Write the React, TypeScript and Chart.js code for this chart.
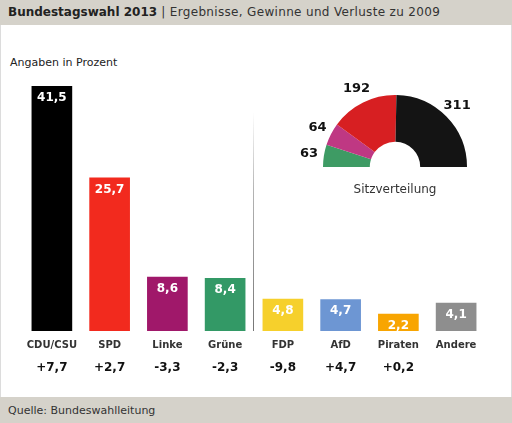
import React, { useEffect, useRef } from "react";
import { Chart, registerables } from "chart.js";

Chart.register(...registerables);

const parties = ["CDU/CSU", "SPD", "Linke", "Grüne", "FDP", "AfD", "Piraten", "Andere"];
const shares = [41.5, 25.7, 8.6, 8.4, 4.8, 4.7, 2.2, 4.1];
const changes = ["+7,7", "+2,7", "-3,3", "-2,3", "-9,8", "+4,7", "+0,2", ""];
const barColors = ["#000000", "#f22a1e", "#a0186a", "#339966", "#f6d02c", "#6d96d3", "#f8a501", "#8e8e8e"];

const seatParties = ["Grüne", "Linke", "SPD", "CDU/CSU"];
const seats = [63, 64, 192, 311];
const seatColors = ["#3e9b64", "#bf3883", "#d71f22", "#141414"];

const Y_MIN = -0.7;
const Y_MAX = 45;
const FONT = "'DejaVu Sans', Verdana, sans-serif";
const fmt = (v: number) => v.toFixed(1).replace(".", ",");

export default function App() {
  const barRef = useRef<HTMLCanvasElement | null>(null);
  const pieRef = useRef<HTMLCanvasElement | null>(null);

  useEffect(() => {
    document.body.style.margin = "0";
    const barLabels = {
      id: "barLabels",
      afterDatasetsDraw(chart: any) {
        const ctx = chart.ctx;
        const meta = chart.getDatasetMeta(0);
        const els = meta.data;
        ctx.save();
        // separator line between Grüne and FDP
        const sx = Math.round((els[3].x + els[4].x) / 2) - 0.5;
        const grad = ctx.createLinearGradient(0, 112, 0, 331);
        grad.addColorStop(0, "rgba(120,120,120,0)");
        grad.addColorStop(0.35, "rgba(120,120,120,0.55)");
        grad.addColorStop(1, "rgba(110,110,110,0.95)");
        ctx.strokeStyle = grad;
        ctx.lineWidth = 1;
        ctx.beginPath();
        ctx.moveTo(sx, 112);
        ctx.lineTo(sx, 331);
        ctx.stroke();

        ctx.textAlign = "center";
        ctx.textBaseline = "middle";
        els.forEach((el: any, i: number) => {
          ctx.fillStyle = "#ffffff";
          ctx.font = `bold 12px ${FONT}`;
          ctx.fillText(fmt(shares[i]), el.x, el.y + 11.5);
          ctx.fillStyle = "#333333";
          ctx.font = `bold 10px ${FONT}`;
          ctx.fillText(parties[i], el.x, 345);
          ctx.fillStyle = "#111111";
          ctx.font = `bold 12px ${FONT}`;
          ctx.fillText(changes[i], el.x, 368);
        });
        ctx.restore();
      },
    };

    const bar = new Chart(barRef.current as HTMLCanvasElement, {
      type: "bar",
      data: {
        labels: parties,
        datasets: [
          {
            data: shares,
            backgroundColor: barColors,
            borderWidth: 0,
            barThickness: 40,
            base: Y_MIN,
          } as any,
        ],
      },
      options: {
        animation: false,
        responsive: false,
        layout: { padding: { left: 23, right: 27, top: 66, bottom: 92 } },
        plugins: { legend: { display: false }, tooltip: { enabled: false } },
        scales: {
          x: { display: false, offset: true },
          y: { display: false, min: Y_MIN, max: Y_MAX },
        },
      },
      plugins: [barLabels],
    });

    const pieLabels = {
      id: "pieLabels",
      afterDatasetsDraw(chart: any) {
        const ctx = chart.ctx;
        const els = chart.getDatasetMeta(0).data;
        ctx.save();
        ctx.textAlign = "center";
        ctx.textBaseline = "middle";
        ctx.fillStyle = "#111111";
        ctx.font = `bold 13px ${FONT}`;
        els.forEach((el: any, i: number) => {
          const mid = (el.startAngle + el.endAngle) / 2;
          const r = el.outerRadius + 15;
          ctx.fillText(String(seats[i]), el.x + Math.cos(mid) * r, el.y + Math.sin(mid) * r);
        });
        ctx.fillStyle = "#333333";
        ctx.font = `12px ${FONT}`;
        ctx.fillText("Sitzverteilung", els[0].x, els[0].y + 23);
        ctx.restore();
      },
    };

    const pie = new Chart(pieRef.current as HTMLCanvasElement, {
      type: "doughnut",
      data: {
        labels: seatParties,
        datasets: [
          {
            data: seats,
            backgroundColor: seatColors,
            borderWidth: 0,
          },
        ],
      },
      options: {
        animation: false,
        responsive: false,
        rotation: -90,
        circumference: 180,
        radius: 72,
        cutout: "35%",
        layout: { padding: { bottom: 10 } },
        plugins: { legend: { display: false }, tooltip: { enabled: false } },
      } as any,
      plugins: [pieLabels],
    });

    return () => {
      bar.destroy();
      pie.destroy();
    };
  }, []);

  return (
    <div
      style={{
        position: "relative",
        width: 512,
        height: 423,
        background: "#ffffff",
        fontFamily: FONT,
        overflow: "hidden",
      }}
    >
      <div
        style={{
          position: "absolute",
          left: 0,
          top: 0,
          width: 512,
          height: 25,
          background: "#d5d2ca",
          boxSizing: "border-box",
          paddingLeft: 8,
          lineHeight: "25px",
          fontSize: 12,
          color: "#333",
          whiteSpace: "nowrap",
        }}
      >
        <span style={{ fontWeight: "bold", color: "#222" }}>Bundestagswahl 2013</span>
        <span style={{ letterSpacing: "0.33px" }}> | Ergebnisse, Gewinne und Verluste zu 2009</span>
      </div>
      <div
        style={{
          position: "absolute",
          left: 0,
          top: 25,
          width: 512,
          height: 372,
          boxSizing: "border-box",
          borderLeft: "1px solid #dcdcdc",
          borderRight: "1px solid #dcdcdc",
        }}
      />
      <div
        style={{
          position: "absolute",
          left: 10,
          top: 56,
          fontSize: 11,
          lineHeight: "14px",
          color: "#222",
        }}
      >
        Angaben in Prozent
      </div>
      <div
        style={{
          position: "absolute",
          left: 0,
          top: 397,
          width: 512,
          height: 26,
          background: "#d5d2ca",
          boxSizing: "border-box",
          paddingLeft: 8,
          lineHeight: "28px",
          fontSize: 11,
          color: "#333",
        }}
      >
        Quelle: Bundeswahlleitung
      </div>
      <canvas ref={barRef} width={512} height={423} style={{ position: "absolute", left: 0, top: 0 }} />
      <canvas ref={pieRef} width={200} height={130} style={{ position: "absolute", left: 295, top: 71 }} />
    </div>
  );
}
